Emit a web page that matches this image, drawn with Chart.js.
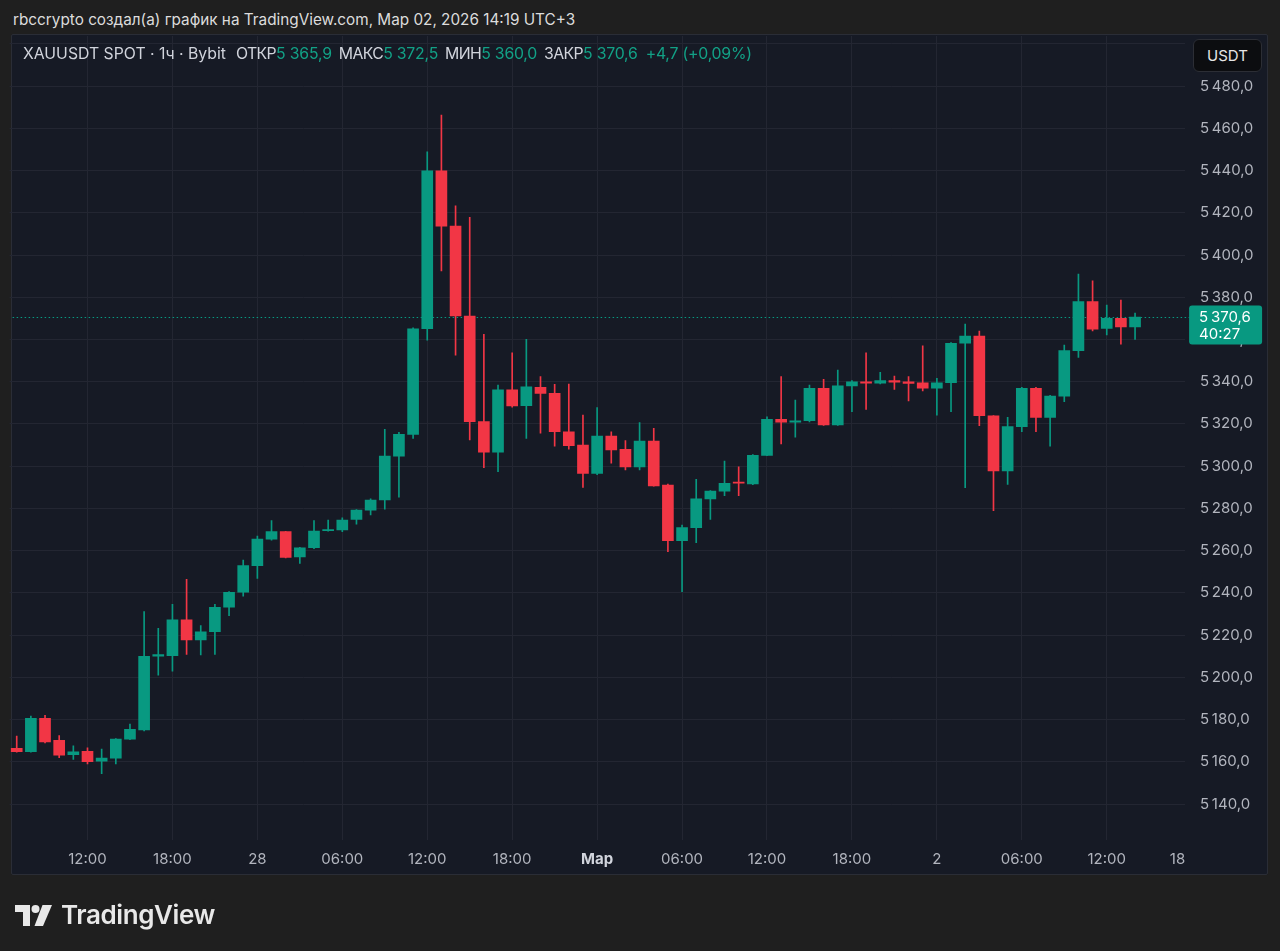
<!DOCTYPE html>
<html lang="ru">
<head>
<meta charset="utf-8">
<title>XAUUSDT SPOT · 1ч · Bybit</title>
<script src="https://cdn.jsdelivr.net/npm/chart.js@4.4.1/dist/chart.umd.min.js"></script>
<style>
  html, body { margin: 0; padding: 0; background: #1f1f1f; }
  body { width: 1280px; height: 951px; position: relative; overflow: hidden; font-family: Inter, "Noto Sans", sans-serif; }
  #title { position: absolute; left: 13px; top: 10px; font-size: 15.3px; color: #dcdcdc; white-space: nowrap; }
  #panel { position: absolute; left: 11px; top: 34px; width: 1255px; height: 839px; background: #161a25; border: 1px solid #2a2d36; border-radius: 2px; }
  #chart { position: absolute; left: 0; top: 0; }
  #legend { position: absolute; left: 23px; top: 44px; font-size: 15.8px; color: #d1d4dc; white-space: nowrap; }
  #legend .v { color: #12a186; letter-spacing: -0.2px; }
  #legend .k { margin-left: 7px; letter-spacing: -0.6px; }
  #legend .k0 { margin-left: 10px; letter-spacing: -0.6px; }
  #legend .d { margin-left: 8px; letter-spacing: -0.2px; color: #12a186; }
  #unit { position: absolute; left: 1193px; top: 39px; width: 67px; height: 31px; line-height: 31px; text-align: center;
          background: #0c0d10; border: 1px solid #2c2e35; border-radius: 6px; color: #e6e6e6; font-size: 15px; }
  #logo { position: absolute; left: 15px; top: 899px; display: flex; align-items: center; color: #e8e8e8; }
  #logo span { font-size: 26px; font-weight: 600; letter-spacing: -0.4px; margin-left: 9px; }
</style>
</head>
<body>
<div id="title">rbccrypto создал(а) график на TradingView.com, Мар 02, 2026 14:19 UTC+3</div>
<div id="panel"></div>
<canvas id="chart" width="1280" height="951"></canvas>
<div id="legend">XAUUSDT SPOT · 1ч · Bybit<span class="k0">ОТКР</span><span class="v">5 365,9</span><span class="k">МАКС</span><span class="v">5 372,5</span><span class="k">МИН</span><span class="v">5 360,0</span><span class="k">ЗАКР</span><span class="v">5 370,6</span><span class="d">+4,7 (+0,09%)</span></div>
<div id="unit">USDT</div>
<div id="logo">
  <svg width="37" height="22" viewBox="0 0 37 22" fill="#e8e8e8">
    <path d="M0 1h15v21H8V8H0z"/>
    <circle cx="20.5" cy="5" r="4"/>
    <path d="M27.5 1H37L28 22h-8.5z"/>
  </svg>
  <span>TradingView</span>
</div>
<script>
// hourly candles, 27.02 07:00 -> 02.03 14:00
const opens  = [5166.4, 5164.8, 5180.6, 5170.2, 5163.4, 5165.0, 5160.3, 5161.7, 5170.8, 5175.1,
                5210.0, 5210.3, 5227.2, 5217.7, 5221.6, 5233.2, 5240.3, 5252.9, 5265.4, 5269.0,
                5257.0, 5261.4, 5269.5, 5269.8, 5274.8, 5279.2, 5284.0, 5304.8, 5315.1, 5365.1,
                5439.8, 5413.7, 5371.1, 5321.1, 5306.6, 5336.1, 5328.6, 5337.3, 5334.5, 5316.3,
                5310.0, 5296.6, 5314.3, 5308.0, 5299.7, 5311.9, 5291.0, 5264.7, 5270.9, 5284.5,
                5288.2, 5292.5, 5291.6, 5305.1, 5322.2, 5320.8, 5321.5, 5336.9, 5319.5, 5338.0,
                5340.0, 5339.3, 5340.5, 5340.0, 5339.5, 5336.9, 5339.5, 5358.2, 5361.6, 5323.9,
                5297.8, 5318.7, 5336.9, 5323.1, 5333.2, 5354.7, 5377.9, 5365.2, 5370.0, 5365.9];
const highs  = [5172.2, 5181.7, 5182.0, 5172.4, 5167.6, 5166.7, 5166.1, 5171.0, 5177.9, 5231.1,
                5223.2, 5234.6, 5246.4, 5224.5, 5234.6, 5240.6, 5255.6, 5266.9, 5274.2, 5269.2,
                5261.6, 5274.2, 5274.5, 5275.5, 5279.5, 5284.5, 5317.5, 5316.0, 5365.5, 5448.9,
                5466.3, 5423.3, 5417.8, 5362.4, 5338.4, 5353.7, 5360.1, 5342.4, 5338.8, 5338.9,
                5324.2, 5327.7, 5316.3, 5312.1, 5320.6, 5317.9, 5291.5, 5272.1, 5293.8, 5288.5,
                5302.4, 5299.7, 5305.5, 5323.4, 5342.4, 5331.3, 5338.4, 5341.1, 5345.5, 5340.5,
                5353.7, 5344.4, 5342.7, 5342.4, 5357.0, 5341.6, 5358.5, 5367.3, 5364.0, 5324.0,
                5323.1, 5337.3, 5337.3, 5333.5, 5357.4, 5391.0, 5387.8, 5376.3, 5378.7, 5372.5];
const lows   = [5164.6, 5164.6, 5169.0, 5162.0, 5161.2, 5159.0, 5154.4, 5159.0, 5170.5, 5174.6,
                5201.1, 5202.9, 5210.9, 5210.6, 5210.9, 5229.2, 5238.5, 5246.9, 5265.0, 5256.6,
                5254.0, 5261.0, 5269.2, 5269.0, 5272.6, 5276.9, 5279.6, 5285.3, 5313.2, 5359.7,
                5392.5, 5352.6, 5312.4, 5299.3, 5297.4, 5328.0, 5313.2, 5315.6, 5309.5, 5308.1,
                5290.0, 5296.0, 5301.4, 5298.2, 5298.2, 5290.5, 5259.5, 5240.6, 5263.8, 5274.8,
                5286.0, 5286.0, 5291.3, 5305.0, 5310.5, 5313.7, 5321.0, 5319.3, 5319.3, 5325.8,
                5326.9, 5339.0, 5336.4, 5330.9, 5335.6, 5324.2, 5325.8, 5289.8, 5319.2, 5278.9,
                5291.4, 5316.3, 5316.3, 5309.5, 5330.5, 5351.5, 5364.0, 5362.1, 5357.8, 5360.0];
const closes = [5164.8, 5180.6, 5169.5, 5163.2, 5164.8, 5160.1, 5161.8, 5170.8, 5175.4, 5210.0,
                5210.8, 5227.2, 5217.7, 5221.6, 5233.2, 5240.3, 5252.9, 5265.5, 5269.0, 5256.8,
                5261.4, 5269.3, 5270.0, 5274.5, 5279.2, 5284.0, 5304.8, 5315.1, 5365.1, 5439.8,
                5413.7, 5371.1, 5321.1, 5306.6, 5336.1, 5328.5, 5337.6, 5334.5, 5316.3, 5309.7,
                5296.6, 5314.3, 5307.7, 5299.7, 5311.9, 5290.7, 5264.7, 5270.9, 5284.5, 5288.2,
                5291.9, 5292.0, 5305.1, 5322.2, 5320.8, 5321.5, 5336.9, 5319.5, 5338.0, 5340.0,
                5339.3, 5340.5, 5339.8, 5339.2, 5336.9, 5339.5, 5358.2, 5361.6, 5323.9, 5297.8,
                5318.7, 5336.9, 5323.1, 5333.2, 5354.7, 5377.9, 5364.9, 5370.0, 5365.9, 5370.6];

// time slots on the x axis (the last few are still empty)
const dayNames = ['27.02', '28.02', '01.03', '02.03'];
const firstHour = 7;
const slotCount = 83;
const categories = [];
for (let i = 0; i < slotCount; i++) {
  const h = firstHour + i;
  categories.push(dayNames[Math.floor(h / 24)] + ' ' + String(h % 24).padStart(2, '0') + ':00');
}

// which slots carry a time label
const xTickIndex = [5, 11, 17, 23, 29, 35, 41, 47, 53, 59, 65, 71, 77, 82];
const xTickText  = ['12:00', '18:00', '28', '06:00', '12:00', '18:00', 'Мар', '06:00', '12:00', '18:00', '2', '06:00', '12:00', '18'];
const xGridIndex = xTickIndex.slice(0, -1);

const countdown = '40:27';
const upColor = '#089981';
const downColor = '#f23645';
const gridColor = '#232632';
const axisText = '#b2b5be';

function fmtPrice(v) {
  const s = v.toFixed(1).split('.');
  const int = s[0];
  return (int.length > 3 ? int.slice(0, -3) + '\u2009' + int.slice(-3) : int) + ',' + s[1];
}

const candleColor = c => closes[c.dataIndex] >= opens[c.dataIndex] ? upColor : downColor;
const lastPrice = closes[closes.length - 1];

const priceTag = {
  id: 'priceTag',
  beforeDatasetsDraw(chart) {
    const { ctx, chartArea, scales } = chart;
    const y = Math.round(scales.y.getPixelForValue(lastPrice)) + 0.5;
    ctx.save();
    ctx.strokeStyle = upColor;
    ctx.lineWidth = 1;
    ctx.setLineDash([1.5, 2.5]);
    ctx.beginPath();
    ctx.moveTo(chartArea.left + 3, y);
    ctx.lineTo(scales.y.left + 5, y);
    ctx.stroke();
    ctx.restore();
  },
  afterDraw(chart) {
    const { ctx, scales } = chart;
    const y = scales.y.getPixelForValue(lastPrice);
    const x = scales.y.left + 4.5;
    ctx.save();
    ctx.fillStyle = upColor;
    ctx.beginPath();
    ctx.roundRect(x, y - 11.5, 73, 39, 3);
    ctx.fill();
    ctx.fillStyle = '#ffffff';
    ctx.font = '15px Inter';
    ctx.textBaseline = 'middle';
    ctx.fillText(fmtPrice(lastPrice), x + 10, y);
    ctx.fillText(countdown, x + 10, y + 17);
    ctx.restore();
  }
};

new Chart(document.getElementById('chart'), {
  type: 'bar',
  data: {
    labels: categories,
    datasets: [
      {
        label: 'wick',
        data: lows.map((l, i) => [l, highs[i]]),
        backgroundColor: candleColor,
        barThickness: 1,
        minBarLength: 1,
        grouped: false,
        borderWidth: 0,
        order: 2
      },
      {
        label: 'body',
        data: opens.map((o, i) => [o, closes[i]]),
        backgroundColor: candleColor,
        barThickness: 11,
        minBarLength: 1,
        grouped: false,
        borderWidth: 0,
        order: 1
      }
    ]
  },
  options: {
    responsive: false,
    animation: false,
    events: [],
    layout: { padding: { left: 9.64, top: 36, right: 13, bottom: 77 } },
    plugins: { legend: { display: false }, tooltip: { enabled: false } },
    scales: {
      x: {
        type: 'category',
        offset: true,
        grid: {
          offset: false,
          drawTicks: false,
          color: c => xGridIndex.includes(c.index) ? gridColor : 'rgba(0,0,0,0)'
        },
        border: { display: false },
        ticks: {
          autoSkip: false,
          maxRotation: 0,
          padding: 10,
          color: c => c.tick && c.tick.label === 'Мар' ? '#d1d4dc' : axisText,
          font: c => ({ family: 'Inter', size: 15, weight: c.tick && c.tick.label === 'Мар' ? 'bold' : 'normal' }),
          callback: (v, i) => {
            const k = xTickIndex.indexOf(i);
            return k >= 0 ? xTickText[k] : '';
          }
        },
        afterFit: s => { s.height = 34; }
      },
      y: {
        position: 'right',
        min: 5123,
        max: 5503.7,
        grid: { color: gridColor, drawTicks: false },
        border: { display: false },
        ticks: {
          stepSize: 20,
          includeBounds: false,
          padding: 15.4,
          color: axisText,
          font: { family: 'Inter', size: 15 },
          callback: v => v === 5500 ? '' : fmtPrice(v)
        },
        afterFit: s => { s.width = 82.4; }
      }
    }
  },
  plugins: [priceTag]
});
</script>
</body>
</html>
